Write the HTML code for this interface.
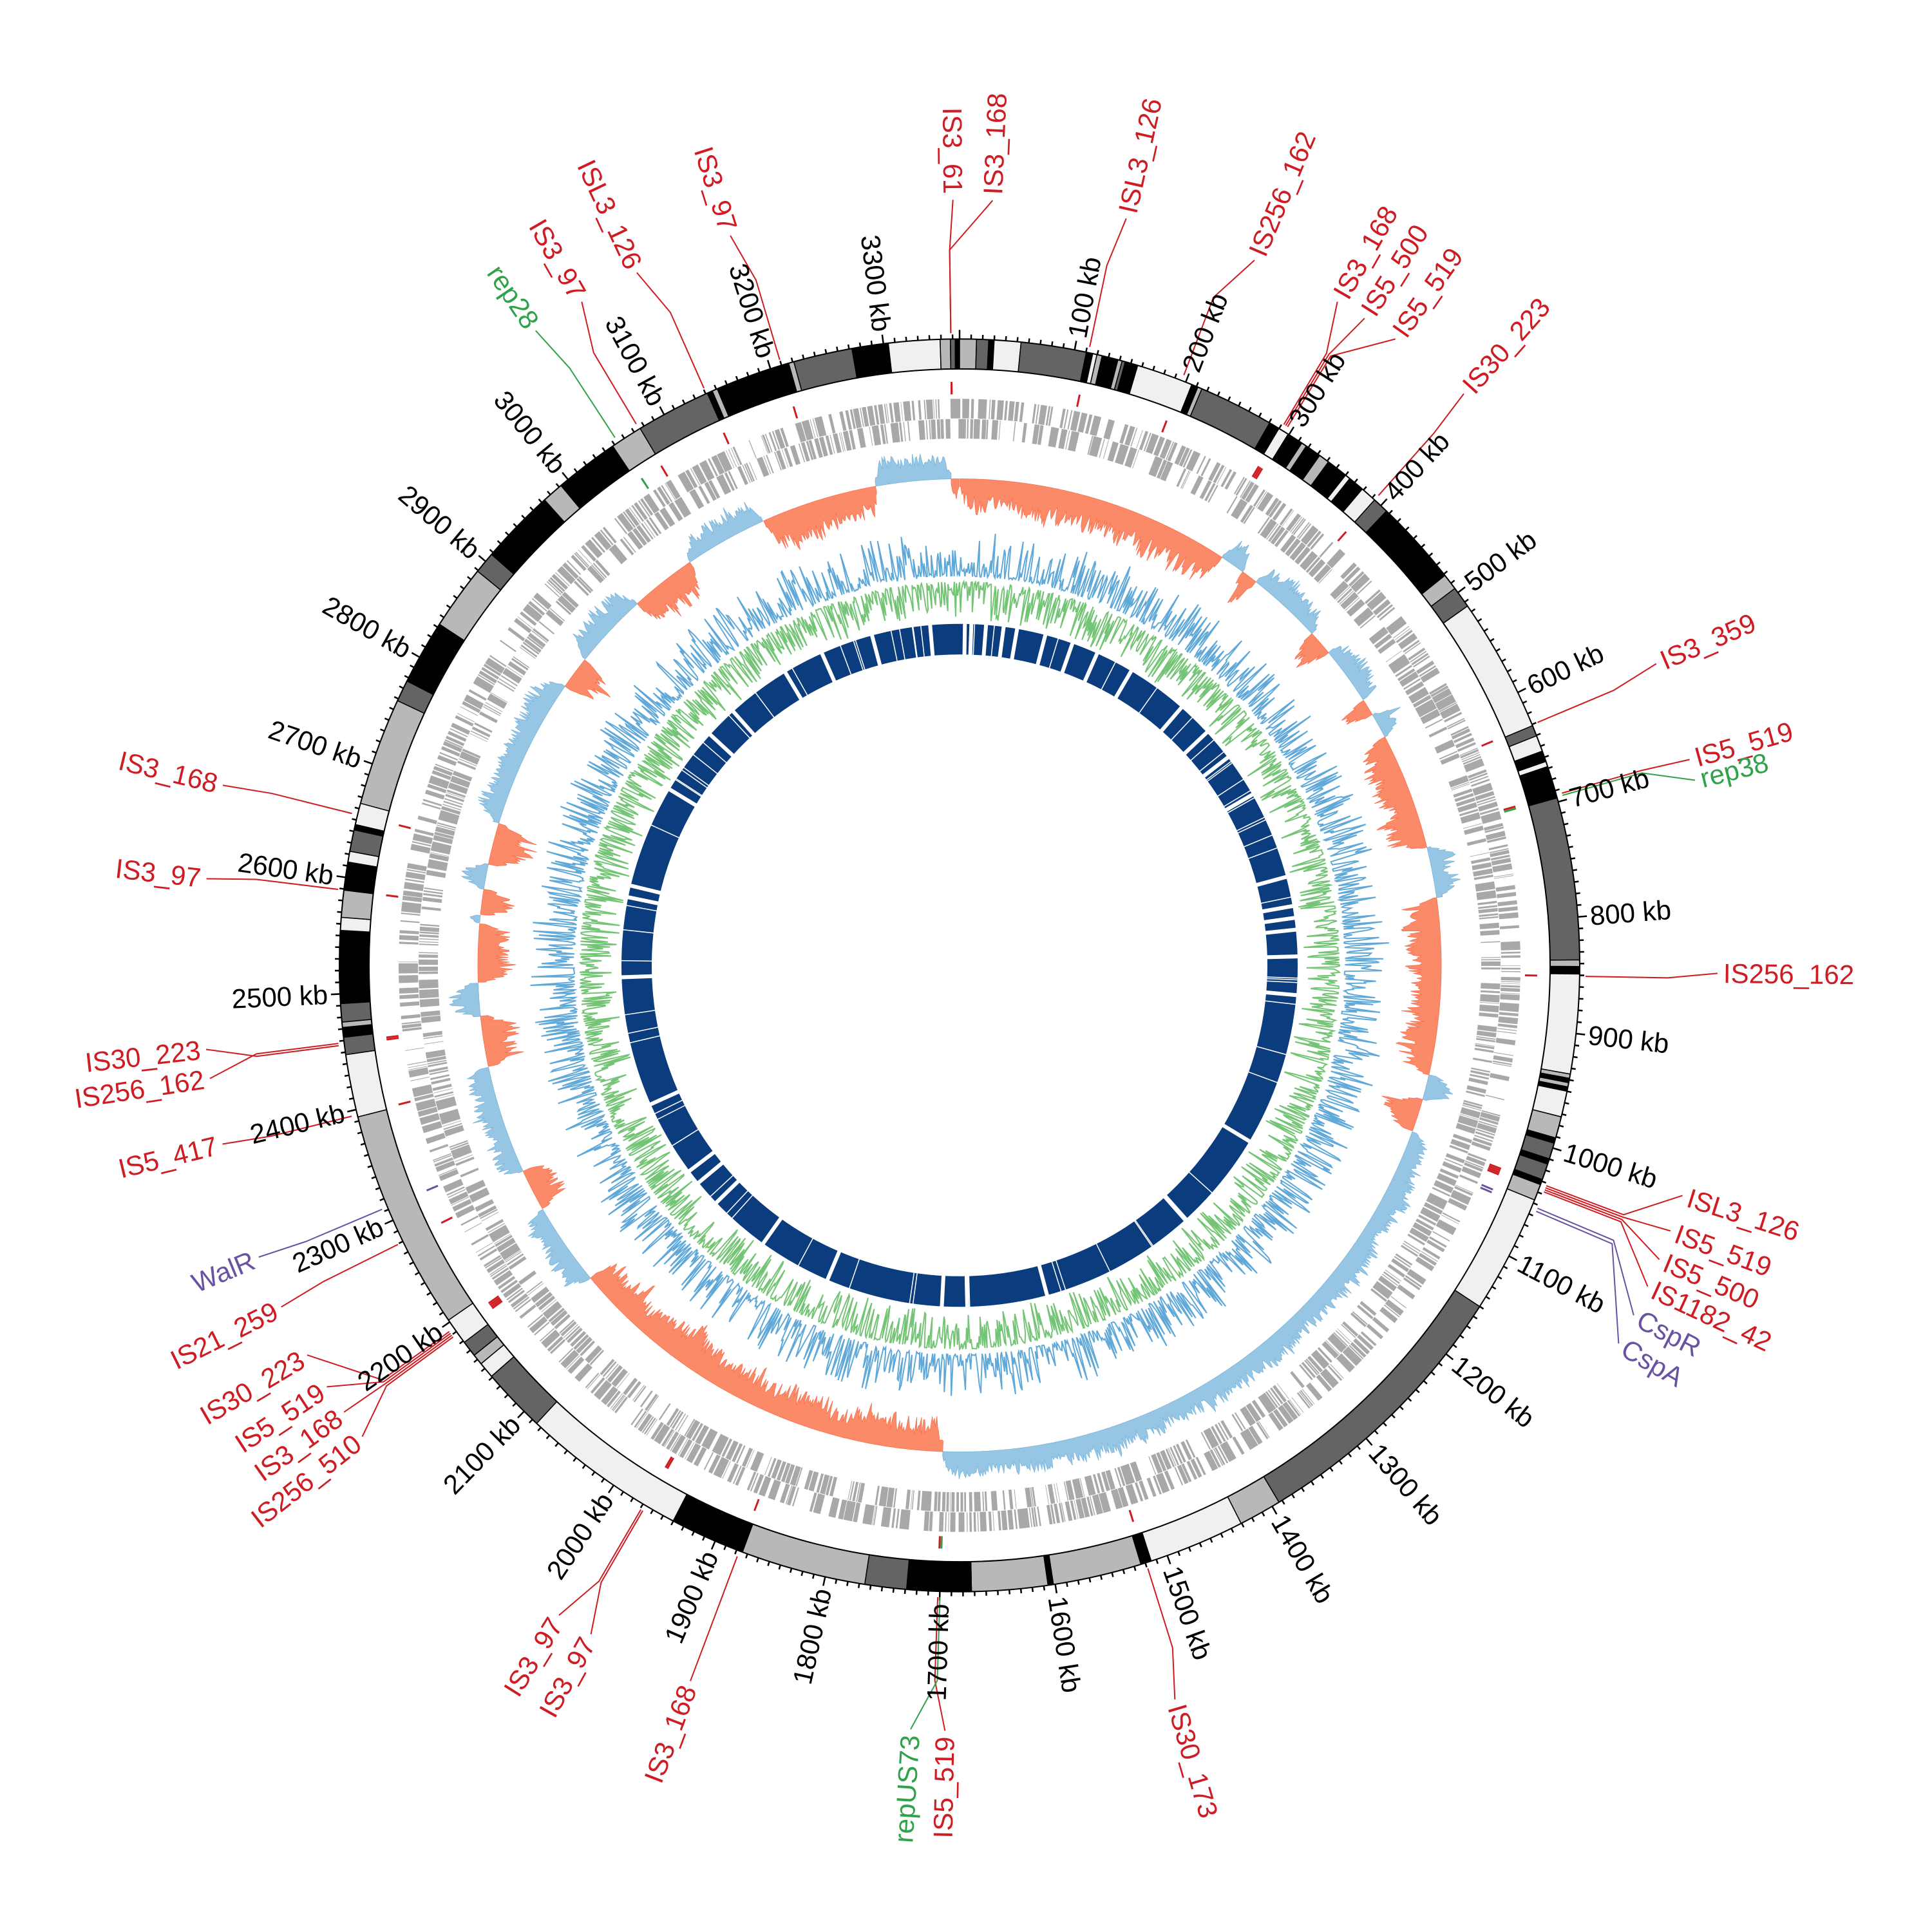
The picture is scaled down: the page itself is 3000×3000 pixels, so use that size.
<!DOCTYPE html>
<html><head><meta charset="utf-8"><style>html,body{margin:0;padding:0;background:#fff}svg{display:block}
.t{font-family:"Liberation Sans Narrow","Liberation Sans",sans-serif;font-size:42px;fill:#000}
.is{font-family:"Liberation Sans Narrow","Liberation Sans",sans-serif;font-size:42px;fill:#cf1b22}
.gr{fill:#2fa24a}.pu{fill:#6a52a3}
</style></head><body>
<svg width="3000" height="3000" viewBox="0 0 3000 3000" xmlns="http://www.w3.org/2000/svg">
<rect width="3000" height="3000" fill="#fff"/>
<g id="g" transform="translate(1490,1499) scale(1,1.01)"></g>
<g transform="translate(1490,1499) scale(1,1.01)" dominant-baseline="central">
<g class="t">
<text transform="rotate(-79.30) translate(982,0)">100 kb</text>
<text transform="rotate(-68.61) translate(982,0)">200 kb</text>
<text transform="rotate(-57.91) translate(982,0)">300 kb</text>
<text transform="rotate(-47.22) translate(982,0)">400 kb</text>
<text transform="rotate(-36.52) translate(982,0)">500 kb</text>
<text transform="rotate(-25.83) translate(982,0)">600 kb</text>
<text transform="rotate(-15.13) translate(982,0)">700 kb</text>
<text transform="rotate(-4.44) translate(982,0)">800 kb</text>
<text transform="rotate(6.26) translate(982,0)">900 kb</text>
<text transform="rotate(16.95) translate(982,0)">1000 kb</text>
<text transform="rotate(27.65) translate(982,0)">1100 kb</text>
<text transform="rotate(38.34) translate(982,0)">1200 kb</text>
<text transform="rotate(49.04) translate(982,0)">1300 kb</text>
<text transform="rotate(59.73) translate(982,0)">1400 kb</text>
<text transform="rotate(70.43) translate(982,0)">1500 kb</text>
<text transform="rotate(81.12) translate(982,0)">1600 kb</text>
<g text-anchor="end">
<text transform="rotate(-88.18) translate(-982,0)">1700 kb</text>
<text transform="rotate(-77.49) translate(-982,0)">1800 kb</text>
<text transform="rotate(-66.79) translate(-982,0)">1900 kb</text>
<text transform="rotate(-56.10) translate(-982,0)">2000 kb</text>
<text transform="rotate(-45.40) translate(-982,0)">2100 kb</text>
<text transform="rotate(-34.71) translate(-982,0)">2200 kb</text>
<text transform="rotate(-24.01) translate(-982,0)">2300 kb</text>
<text transform="rotate(-13.32) translate(-982,0)">2400 kb</text>
<text transform="rotate(-2.62) translate(-982,0)">2500 kb</text>
<text transform="rotate(8.07) translate(-982,0)">2600 kb</text>
<text transform="rotate(18.77) translate(-982,0)">2700 kb</text>
<text transform="rotate(29.47) translate(-982,0)">2800 kb</text>
<text transform="rotate(40.16) translate(-982,0)">2900 kb</text>
<text transform="rotate(50.86) translate(-982,0)">3000 kb</text>
<text transform="rotate(61.55) translate(-982,0)">3100 kb</text>
<text transform="rotate(72.25) translate(-982,0)">3200 kb</text>
<text transform="rotate(82.94) translate(-982,0)">3300 kb</text>
</g></g>
<g class="is">
<text transform="rotate(-87.5) translate(1186,0)">IS3_168</text>
<text transform="rotate(-77.3) translate(1186,0)">ISL3_126</text>
<text transform="rotate(-67.1) translate(1186,0)">IS256_162</text>
<text transform="rotate(-60.1) translate(1186,0)">IS3_168</text>
<text transform="rotate(-57.7) translate(1186,0)">IS5_500</text>
<text transform="rotate(-54.9) translate(1186,0)">IS5_519</text>
<text transform="rotate(-48.3) translate(1186,0)">IS30_223</text>
<text transform="rotate(-23.2) translate(1186,0)">IS3_359</text>
<text transform="rotate(-15.6) translate(1186,0)">IS5_519</text>
<text class="gr" transform="rotate(-14) translate(1186,0)">rep38</text>
<text transform="rotate(0.6) translate(1186,0)">IS256_162</text>
<text transform="rotate(17.5) translate(1186,0)">ISL3_126</text>
<text transform="rotate(20.3) translate(1186,0)">IS5_519</text>
<text transform="rotate(22.6) translate(1186,0)">IS5_500</text>
<text transform="rotate(24.8) translate(1186,0)">IS1182_42</text>
<text class="pu" transform="rotate(27.2) translate(1186,0)">CspR</text>
<text class="pu" transform="rotate(29.6) translate(1186,0)">CspA</text>
<text transform="rotate(73.5) translate(1186,0)">IS30_173</text>
<g text-anchor="end">
<text transform="rotate(-88.9) translate(-1186,0)">IS5_519</text>
<text class="gr" transform="rotate(-86.3) translate(-1186,0)">repUS73</text>
<text transform="rotate(-69.2) translate(-1186,0)">IS3_168</text>
<text transform="rotate(-60.9) translate(-1186,0)">IS3_97</text>
<text transform="rotate(-58.1) translate(-1186,0)">IS3_97</text>
<text transform="rotate(-38) translate(-1186,0)">IS256_510</text>
<text transform="rotate(-35.7) translate(-1186,0)">IS3_168</text>
<text transform="rotate(-33.4) translate(-1186,0)">IS5_519</text>
<text transform="rotate(-30.6) translate(-1186,0)">IS30_223</text>
<text transform="rotate(-26.5) translate(-1186,0)">IS21_259</text>
<text class="pu" transform="rotate(-22.4) translate(-1186,0)">WalR</text>
<text transform="rotate(-13.5) translate(-1186,0)">IS5_417</text>
<text transform="rotate(-8.5) translate(-1186,0)">IS256_162</text>
<text transform="rotate(-6.3) translate(-1186,0)">IS30_223</text>
<text transform="rotate(6.5) translate(-1186,0)">IS3_97</text>
<text transform="rotate(13.6) translate(-1186,0)">IS3_168</text>
<text class="gr" transform="rotate(56) translate(-1186,0)">rep28</text>
<text transform="rotate(60.1) translate(-1186,0)">IS3_97</text>
<text transform="rotate(64.8) translate(-1186,0)">ISL3_126</text>
<text transform="rotate(72.4) translate(-1186,0)">IS3_97</text>
<text transform="rotate(89.5) translate(-1186,0)">IS3_61</text>
</g></g>
</g>
</svg>
<script>
(function(){
var g=document.getElementById('g');
var seed=987654;
function rnd(){seed|=0;seed=seed+0x6D2B79F5|0;var t=Math.imul(seed^seed>>>15,1|seed);t=t+Math.imul(t^t>>>7,61|t)^t;return((t^t>>>14)>>>0)/4294967296;}
var D=Math.PI/180;
function P(r,a){return (r*Math.sin(a*D)).toFixed(1)+','+(-r*Math.cos(a*D)).toFixed(1);}
function sector(a1,a2,r1,r2){var lg=(a2-a1)>180?1:0;return 'M'+P(r2,a1)+'A'+r2+','+r2+' 0 '+lg+' 1 '+P(r2,a2)+'L'+P(r1,a2)+'A'+r1+','+r1+' 0 '+lg+' 0 '+P(r1,a1)+'Z';}
var h='';
// gene ring
function dash(){var a=[],tot=0;while(tot<6000){var d=0.8+rnd()*rnd()*16;var gp=rnd()<0.6?0.8+rnd()*2.5:2+rnd()*rnd()*30;a.push(d.toFixed(1),gp.toFixed(1));tot+=d+gp;}return a.join(' ');}
h+='<circle r="856" fill="none" stroke="#a8a8a8" stroke-width="30" stroke-dasharray="'+dash()+'"/>';
h+='<circle r="825" fill="none" stroke="#a8a8a8" stroke-width="30" stroke-dasharray="'+dash()+'"/>';
// skew
var R=[[0,33,-1],[33,36,1],[36,38,-1],[38,47,1],[47,50,-1],[50,57,1],[57,59,-1],[59,62,1],[62,76,-1],[76,82,1],[82,103,-1],[103,106,1],[106,110,-1],[110,182,1],[182,230,-1],[230,240,1],[240,245,-1],[245,258,1],[258,264,-1],[264,268,1],[268,275,-1],[275,276,1],[276,279,-1],[279,282,1],[282,287,-1],[287,305,1],[305,309,-1],[309,318,1],[318,326,-1],[326,336,1],[336,350,-1],[350,359,1],[359,360,-1]];
var base=748,pb='',ps='';
for(var i=0;i<R.length;i++){var a=R[i][0],b=R[i][1],s=R[i][2];var pts=[],bl=[];var v=rnd();
for(var t=a;t<=b+0.001;t+=0.15){v=0.75*v+0.25*rnd();var env=Math.min(1,(t-a)/1.2+0.25,(b-t)/1.2+0.25);var amp=(s>0?60:85)*env*(0.3+0.7*v)*(0.5+0.5*rnd());pts.push(P(base+s*amp,t));bl.push(P(base,t));}
bl.reverse();var d='M'+pts.join('L')+'L'+bl.join('L')+'Z';if(s>0)pb+=d;else ps+=d;}
h+='<path d="'+pb+'" fill="#96c6e3" stroke="#7ab5dc" stroke-width="0.8"/>';
h+='<path d="'+ps+'" fill="#fb8a68" stroke="#f7704f" stroke-width="0.8"/>';
// GC content
var bp=[],gq=[];
for(var t=0;t<360;t+=0.16){bp.push(P(598+Math.pow(rnd(),2.6)*70,t));gq.push(P(590-Math.pow(rnd(),2.6)*60,t));}
h+='<path d="M'+gq.join('L')+'Z" fill="none" stroke="#74c476" stroke-width="2"/>';
h+='<path d="M'+bp.join('L')+'Z" fill="none" stroke="#5fa8d8" stroke-width="2"/>';
// inner ring
h+='<circle r="501.5" fill="none" stroke="#0b3c7d" stroke-width="47"/>';
var gaps=[[0.9,7],[2,3],[4.5,3],[7.5,3],[9.8,4],[14.7,3],[19.5,6],[24,5],[30.5,6],[41,2],[47,2],[52.5,3],[60,3],[75,6],[80,5],[82,3],[84,4],[88.5,2],[95,5],[121,2],[138,6],[165,3],[178.7,5],[183,5],[203,7],[215.5,4],[226,6],[230.5,5],[233,6],[246,3],[268,8],[281.5,4],[283.5,3],[301,3],[312.5,9],[318,3],[329,7],[336,7],[345,3],[355,2]];
var gd='';for(var i=0;i<gaps.length;i++){gd+='M'+P(476,gaps[i][0])+'L'+P(527,gaps[i][0]);}
h+='<path d="'+gd+'" stroke="#fff" stroke-width="6" fill="none"/>';
var gd2='';for(var i=0;i<70;i++){var a=rnd()*360;gd2+='M'+P(476,a)+'L'+P(527,a);}
h+='<path d="'+gd2+'" stroke="#fff" stroke-width="1.5" fill="none"/>';
// ideogram
var K='#000',Dk='#646464',G='#b8b8b8',L='#f0f0f0';
var S=[[351,353.4,K],[353.4,358.2,L],[358.2,359.15,G],[359.15,359.6,Dk],[359.6,360,K],[0,1.57,G],[1.57,2.7,Dk],[2.7,3.2,K],[3.2,5.7,L],[5.7,11.8,Dk],[11.8,12.4,K],[12.4,12.8,L],[12.8,13.3,G],[13.3,14.8,K],[14.8,15.2,G],[15.2,15.5,Dk],[15.5,16.7,K],[16.7,22,L],[22,22.6,K],[22.6,23,G],[23,30,Dk],[30,31,K],[31,32,L],[32,33.5,K],[33.5,34,G],[34,35.5,K],[35.5,36.5,G],[36.5,38.5,K],[38.5,39,L],[39,40.5,K],[40.5,42,L],[42,43.5,Dk],[43.5,51.5,K],[51.5,53,G],[53,55,Dk],[55,67.5,L],[67.5,68.5,Dk],[68.5,70,L],[70,71,K],[71,71.5,L],[71.5,74.5,K],[74.5,89.5,Dk],[89.5,90.1,G],[90.1,90.8,K],[90.8,100,L],[100,100.4,G],[100.4,100.8,K],[100.8,101.2,G],[101.2,101.6,K],[101.6,104,L],[104,106,G],[106,106.5,K],[106.5,108,Dk],[108,108.5,K],[108.5,110,Dk],[110,110.5,K],[110.5,112,G],[112,123,L],[123,149,Dk],[149,153,G],[153,162,L],[162,163,K],[163,171.3,G],[171.3,171.8,K],[171.8,178.9,G],[178.9,184.9,K],[184.9,188.8,Dk],[188.8,200.5,G],[200.5,207.5,K],[207.5,223,L],[223,229,Dk],[229,230.5,L],[230.5,231.5,G],[231.5,233,Dk],[233,235.5,L],[235.5,256,G],[256,261.8,L],[261.8,263.4,Dk],[263.4,264.3,K],[264.3,264.8,G],[264.8,266.5,Dk],[266.5,273.2,K],[273.2,274.4,L],[274.4,276.9,G],[276.9,279.5,K],[279.5,280.5,L],[280.5,282.5,Dk],[282.5,283,K],[283,285,L],[285,295,G],[295,297,Dk],[297,303,K],[303,309,G],[309,311,Dk],[311,318,K],[318,320,G],[320,326,K],[326,329,G],[329,336,Dk],[336,336.5,K],[336.5,337,G],[337,344,K],[344,344.5,G],[344.5,350,Dk],[350,351,K]];
for(var i=0;i<S.length;i++){h+='<path d="'+sector(S[i][0],S[i][1],917,963)+'" fill="'+S[i][2]+'" stroke="#000" stroke-width="1.5"/>';}
h+='<circle r="963" fill="none" stroke="#000" stroke-width="2"/><circle r="917" fill="none" stroke="#000" stroke-width="2"/>';
// ticks
var td='';for(var kb=0;kb<3366;kb+=10){var a=kb*360/3366;var l=(kb%100==0)?14:7;td+='M'+P(963,a)+'L'+P(963+l,a);}
h+='<path d="'+td+'" stroke="#000" stroke-width="2.5" fill="none"/>';
// leaders [p,l,color]
var red='#cf1b22',grn='#2fa24a',pur='#6a52a3';
var Ls=[[359.2,2.5,red],[12,12.7,red],[21,22.9,red],[31.2,29.9,red],[31.4,32.3,red],[31.6,35.1,red],[42,41.7,red],[67.4,66.8,red],[74.2,74.4,red],[74.4,76,grn],[91,90.6,red],[110.4,107.5,red],[110.6,110.3,red],[110.8,112.6,red],[111,114.8,red],[112.6,117.2,pur],[112.9,119.6,pur],[162.5,163.5,red],[182,181.1,red],[181.8,183.7,grn],[200.8,200.8,red],[210.4,209.1,red],[210.6,211.9,red],[234,232,red],[234.2,234.3,red],[234.4,236.6,red],[234.6,239.4,red],[243.8,243.5,red],[247.3,247.6,pur],[256.2,256.5,red],[262.9,261.5,red],[262.7,263.7,red],[276.9,276.5,red],[283.9,283.6,red],[326.6,326,grn],[328.9,330.1,red],[335.9,334.8,red],[343.3,342.4,red],[359.2,359.5,red]];
for(var i=0;i<Ls.length;i++){var p=Ls[i][0],q=Ls[i][1],c=Ls[i][2];
h+='<path d="M'+P(972,p)+'L'+P(1100,p)+'L'+P(1177,q)+'" fill="none" stroke="'+c+'" stroke-width="2"/>';
h+='<path d="M'+P(878,p)+'L'+P(897,p)+'" stroke="'+c+'" stroke-width="3"/>';}
g.innerHTML=h;
})();
</script>
</body></html>
